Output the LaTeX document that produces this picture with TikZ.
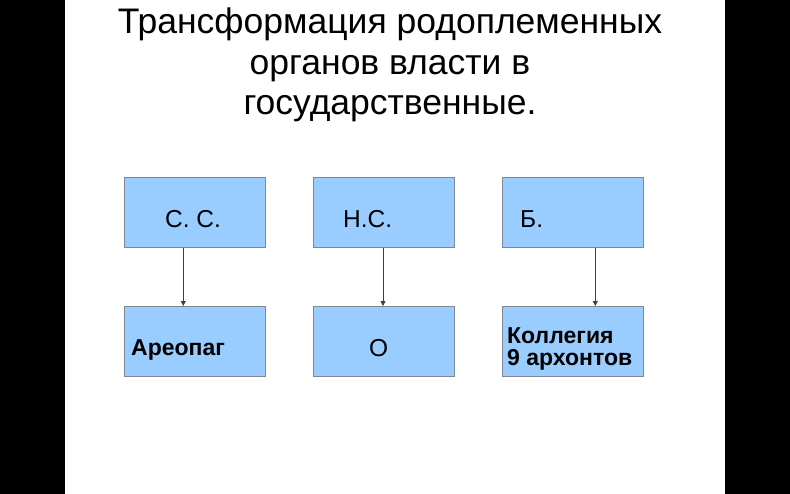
\documentclass[tikz,border=0pt]{standalone}
\usepackage{fontspec}
\setmainfont{Liberation Sans}
\usetikzlibrary{arrows.meta,calc}
\definecolor{boxfill}{HTML}{99CCFF}
\definecolor{boxline}{HTML}{7C8896}
\definecolor{arrline}{HTML}{404040}
\begin{document}
\begin{tikzpicture}[x=1bp,y=-1bp,
  box/.style={draw=boxline,line width=0.8bp,fill=boxfill,minimum width=141bp,minimum height=70bp,inner sep=0pt,anchor=north west},
  ttl/.style={anchor=base,inner sep=0pt,font=\fontsize{35.5bp}{40bp}\selectfont},
  lbl/.style={anchor=base west,inner sep=0pt,font=\fontsize{24.5bp}{28bp}\selectfont},
  blbl/.style={anchor=base west,inner sep=0pt,align=left,font=\fontsize{23bp}{22bp}\selectfont\bfseries},
  arr/.style={draw=arrline,line width=0.8bp,-{Triangle[length=5bp,width=5bp]}}]
\useasboundingbox (0,0) rectangle (790,494);
\fill[white] (0,0) rectangle (790,494);
\fill[black] (0,0) rectangle (65,494);
\fill[black] (725,0) rectangle (790,494);
% title
\node[ttl] (t1) at (390,34) {Трансформация родоплеменных};
\node[ttl] (t2) at (390,75) {органов власти в};
\node[ttl] (t3) at (390,115) {государственные.};
% boxes
\node[box] (b1) at (124,177) {};
\node[box] (b2) at (313,177) {};
\node[box] (b3) at (502,177) {};
\node[box] (a1) at (124,306) {};
\node[box] (a2) at (313,306) {};
\node[box] (a3) at (502,306) {};
% labels
\node[lbl] (l1) at (165,228) {С.\ С.};
\node[lbl] (l2) at (343,228) {Н.С.};
\node[lbl] (l3) at (520,228) {Б.};
\node[blbl] (m1) at (131,355) {Ареопаг};
\node[lbl] (m2) at (369,356) {О};
\node[blbl] (m3) at (507,365) {Коллегия\\9 архонтов};
% arrows
\draw[arr] ($(b1.south west)+(59.3,0)$) -- ($(a1.north west)+(59.3,0)$);
\draw[arr] ($(b2.south west)+(70,0)$) -- ($(a2.north west)+(70,0)$);
\draw[arr] ($(b3.south west)+(93.3,0)$) -- ($(a3.north west)+(93.3,0)$);
\end{tikzpicture}
\end{document}
